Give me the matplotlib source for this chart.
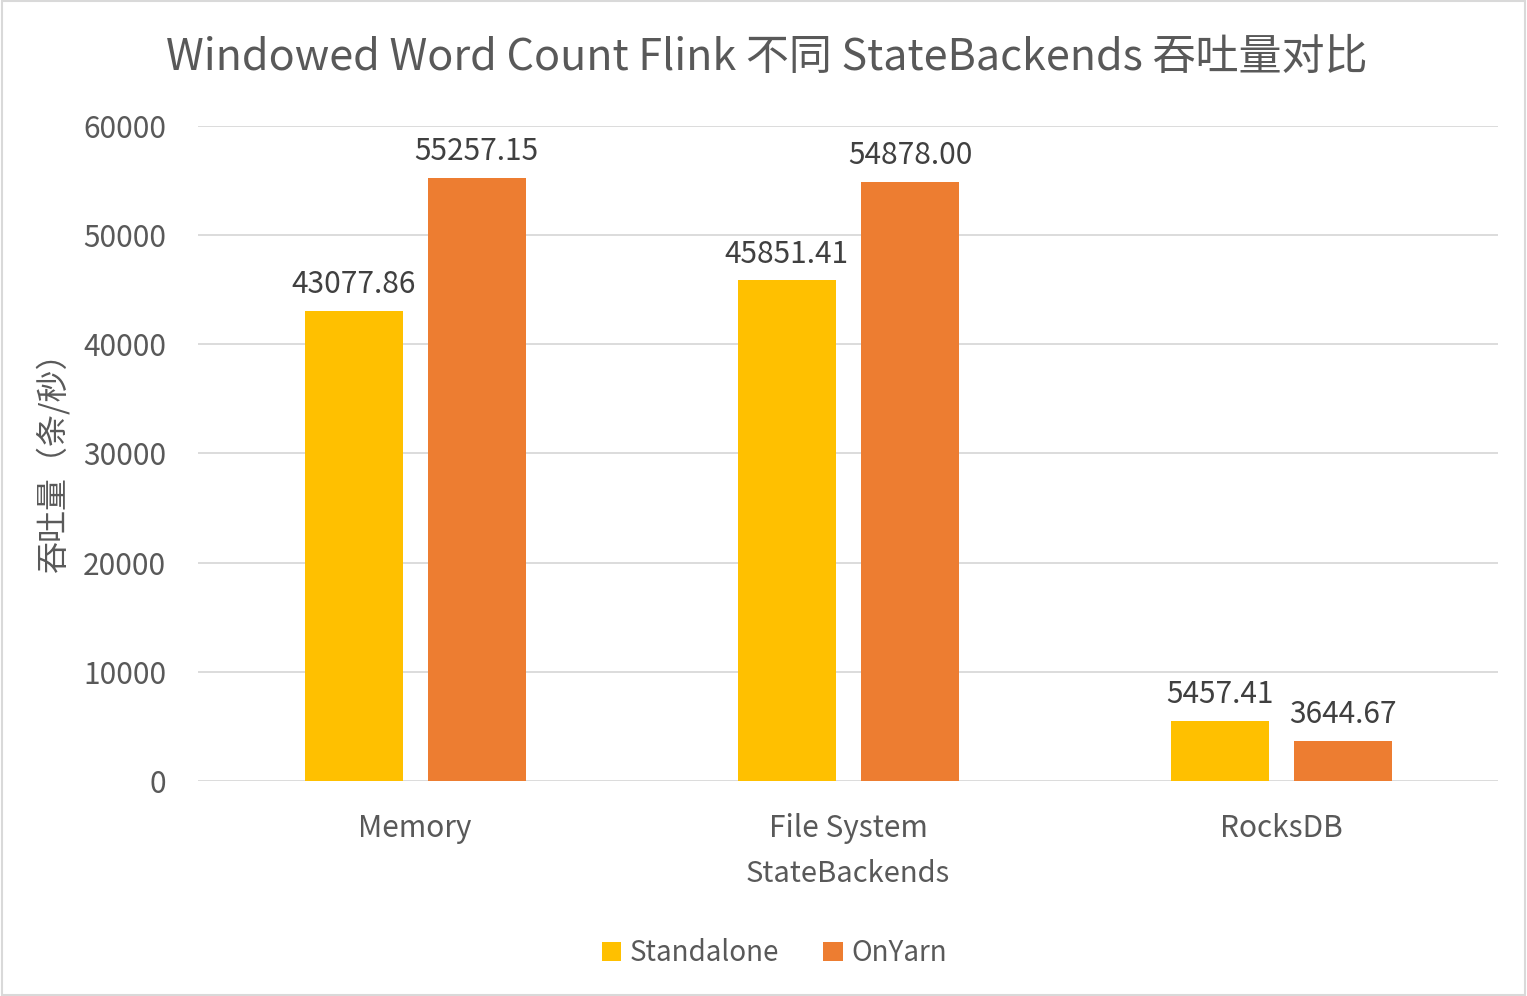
import matplotlib.pyplot as plt
from matplotlib.patches import Rectangle
import numpy as np

plt.rcParams['font.family'] = ['Noto Sans CJK SC', 'DejaVu Sans']

# 数据
backends = ["Memory", "File System", "RocksDB"]
standalone = [43077.86, 45851.41, 5457.41]
on_yarn = [55257.15, 54878.00, 3644.67]
yticks = [0, 10000, 20000, 30000, 40000, 50000, 60000]

gris = '#595959'
fig = plt.figure(figsize=(15.27, 9.96), dpi=100)
ax = fig.add_axes([0.1297, 0.2159, 0.8513, 0.6576])

x = np.arange(len(backends))
ancho = 0.226
b1 = ax.bar(x - 0.141, standalone, ancho, color='#FFC000', label='Standalone', zorder=3)
b2 = ax.bar(x + 0.143, on_yarn, ancho, color='#ED7D31', label='OnYarn', zorder=3)

for barras in (b1, b2):
    for b in barras:
        ax.text(b.get_x() + b.get_width() / 2, b.get_height() + 1000,
                "{:.2f}".format(b.get_height()), ha='center', va='bottom',
                fontsize=21.5, color='#404040')

ax.set_xlim(-0.5, 2.5)
ax.set_ylim(0, 60000)
ax.set_yticks(yticks)
ax.set_yticklabels([str(t) for t in yticks], fontsize=21.5, color=gris)
ax.set_xticks(x)
ax.set_xticklabels(backends, fontsize=21.5, color=gris)
ax.tick_params(length=0, pad=23)
ax.tick_params(axis='y', pad=23)
ax.grid(axis='y', color='#D9D9D9', linewidth=1.3, zorder=0)
for s in ax.spines.values():
    s.set_visible(False)

ax.set_xlabel("StateBackends", fontsize=21, color=gris, labelpad=11)
ax.set_ylabel("吞吐量（条/秒）", fontsize=23, color=gris, labelpad=10)
fig.text(0.502, 0.942, "Windowed Word Count Flink 不同 StateBackends 吞吐量对比",
         ha='center', va='center', fontsize=31, color=gris)

fig.legend(loc='center', bbox_to_anchor=(0.507, 0.043), ncol=2, frameon=False,
           fontsize=20, handlelength=0.7, handleheight=0.7, handletextpad=0.3,
           columnspacing=1.6, labelcolor=gris)

fig.patches.append(Rectangle((0.001, 0.001), 0.998, 0.998, transform=fig.transFigure,
                             fill=False, edgecolor='#D9D9D9', linewidth=1.5))

fig.savefig('out.png', dpi=100, facecolor='white')
